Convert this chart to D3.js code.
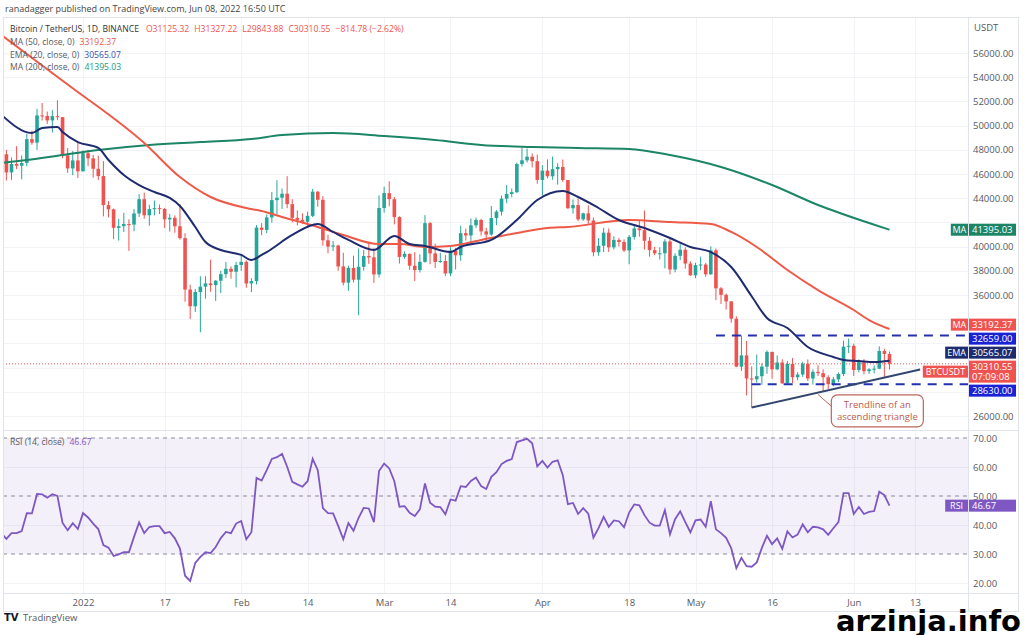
<!DOCTYPE html>
<html>
<head>
<meta charset="utf-8">
<script src="https://cdn.jsdelivr.net/npm/d3@7"></script>
<style>
  body { margin: 0; background: #fff; }
  svg { display: block; font-family: "Open Sans", "DejaVu Sans", sans-serif; }
</style>
</head>
<body>
<div id="chart"></div>
<script>
// Section 1: Data
// ===============

// first candle of the view, one candle per day from here
var startDay = "2021-12-16";

var opens = [
  48880, 47630, 46130, 46830, 46680, 46910, 48880, 48590, 50840, 50800, 50430, 50780, 50700, 47540, 46460, 47120,
  46220, 47720, 47290, 46430, 45830, 43430, 43080, 41550, 41690, 41860, 41820, 42740, 43920, 42590, 43100, 43180,
  43110, 42250, 42380, 41680, 40700, 36450, 35070, 36250, 36690, 36960, 36820, 37180, 37720, 38170, 37920,
  38480, 38740, 36950, 37150, 41570, 41380, 42410, 43840, 44040, 44370, 43510, 42380, 42210, 42050, 42540, 44540,
  43870, 40520, 40000, 40090, 38360, 37020, 38240, 37260, 38330, 39220, 39110, 37700,
  43190, 44420, 43920, 42450, 39150, 39400, 38420, 38060, 38740, 41940, 39440, 38730, 38810, 37780, 39670, 39280,
  41110, 40920, 41760, 42200, 41260, 41000, 42360, 42890, 43960, 44350, 44500, 46820, 47130, 47430, 47060,
  45510, 46280, 45810, 46400, 46580, 45500, 43170, 43440, 42250, 42750, 42160, 39530, 40070, 41150, 39940, 40550,
  40380, 39680, 40800, 41500, 41360, 40480, 39710, 39450, 39450, 40430, 38110, 39240, 39740, 38600,
  37630, 38470, 38520, 37710, 39690, 36550, 36010, 35470, 34040, 30080, 31010, 29100, 29030, 29290, 30080, 31300,
  29860, 30420, 28700, 30300, 29200, 29430, 30320, 29100, 29650, 29540, 29200, 28630, 29030, 29470, 31730,
  31800, 29800, 30450, 29700, 29860, 29910, 31370, 31125.32
];
var highs = [
  49430, 47990, 47360, 48300, 47540, 49330, 49570, 51380, 51870, 51160, 51280, 52090, 50700, 48140, 47900, 48550,
  47950, 47990, 47570, 47510, 47070, 43750, 43150, 42300, 42790, 42250, 43100, 44330, 44460, 43460, 43800, 43480,
  43200, 42690, 42580, 43500, 41100, 36840, 36500, 37550, 37550, 38920, 37230, 38000, 38720, 38360, 38740,
  39270, 38860, 37390, 41770, 41940, 42660, 44500, 45490, 44800, 45820, 43920, 43000, 42750, 42880, 44770, 44590,
  44170, 40980, 40470, 40150, 39490, 38430, 39250, 39840, 39730, 40300, 39880, 44230,
  44950, 45400, 44100, 42500, 39600, 39430, 39550, 39360, 42600, 42040, 40240, 39490, 39310, 39940, 39890, 41720,
  41480, 42330, 42400, 42300, 41550, 43360, 43020, 44220, 45090, 44800, 46940, 48190, 48100, 47700, 47600,
  46720, 47210, 47440, 46890, 47200, 45510, 43900, 43970, 42800, 43410, 42410, 40700, 41560, 41500, 40860, 40710,
  40600, 40950, 41760, 42200, 42980, 40800, 39980, 39940, 40620, 40800, 39450, 40370, 39930, 38790,
  38670, 39170, 38650, 40020, 39850, 36660, 36130, 35500, 34240, 32660, 32200, 30100, 31080, 30340, 31420, 31300,
  31000, 30690, 30550, 30780, 29620, 30480, 30670, 29850, 30200, 29860, 29370, 29230, 29600, 32230, 32400,
  31980, 30680, 30700, 29950, 30170, 31760, 31560, 31327.22
];
var lows = [
  47510, 45460, 45520, 46410, 45560, 46630, 48420, 47990, 50420, 50140, 49420, 50450, 47310, 46100, 45900, 45680,
  46210, 46650, 45700, 45500, 42500, 42420, 40610, 40500, 41200, 39650, 41270, 42450, 42300, 41730, 42580, 42690,
  41540, 41250, 41140, 40580, 35440, 34010, 34600, 32920, 35700, 36270, 35510, 36160, 37410, 37350, 36630,
  38000, 36590, 36250, 36870, 40940, 41110, 41980, 42670, 43120, 43170, 42000, 41750, 41880, 41570, 42430, 43300,
  40070, 39450, 39640, 38000, 36800, 36350, 37030, 34320, 38010, 38570, 37000, 37450,
  42810, 43330, 41830, 38600, 38990, 38090, 37160, 37860, 38660, 38540, 38220, 38660, 37580, 37570, 38110, 38830,
  40500, 40140, 41540, 40910, 40470, 40900, 41770, 42570, 43580, 44070, 44420, 46620, 46950, 46540, 45200,
  44200, 45630, 45520, 45120, 45350, 43120, 42730, 42110, 42120, 41870, 39200, 39250, 39550, 39560, 39760, 40000,
  39550, 38540, 40570, 40820, 39750, 39170, 39290, 38930, 38200, 37700, 37870, 38880, 38180, 37580,
  37390, 38050, 37500, 37670, 35570, 35260, 34790, 33710, 30030, 29730, 27700, 26700, 28750, 28580, 29490, 29080,
  29780, 28660, 28690, 28730, 28950, 29230, 28890, 28600, 29300, 28020, 28200, 28450, 28800, 29300, 31200,
  29310, 29600, 29450, 29480, 29520, 29870, 29220, 29843.88
];
var closes = [
  47630, 46130, 46830, 46680, 46910, 48880, 48590, 50840, 50800, 50430, 50780, 50700, 47540, 46460, 47120, 46220,
  47720, 47290, 46430, 45830, 43430, 43080, 41550, 41690, 41860, 41820, 42740, 43920, 42590, 43100, 43180, 43110,
  42250, 42380, 41680, 40700, 36450, 35070, 36250, 36690, 36960, 36820, 37180, 37720, 38170, 37920, 38480,
  38740, 36950, 37150, 41570, 41380, 42410, 43840, 44040, 44370, 43510, 42380, 42210, 42050, 42540, 44540, 43870,
  40520, 40000, 40090, 38360, 37020, 38240, 37260, 38330, 39220, 39110, 37700, 43190,
  44420, 43920, 42450, 39150, 39400, 38420, 38060, 38740, 41940, 39440, 38730, 38810, 37780, 39670, 39280, 41110,
  40920, 41760, 42200, 41260, 41000, 42360, 42890, 43960, 44350, 44500, 46820, 47130, 47430, 47060, 45510,
  46280, 45810, 46400, 46580, 45500, 43170, 43440, 42250, 42750, 42160, 39530, 40070, 41150, 39940, 40550, 40380,
  39680, 40800, 41500, 41360, 40480, 39710, 39450, 39450, 40430, 38110, 39240, 39740, 38600, 37630,
  38470, 38520, 37710, 39690, 36550, 36010, 35470, 34040, 30080, 31010, 29100, 29030, 29290, 30080, 31300, 29860,
  30420, 28700, 30300, 29200, 29430, 30320, 29100, 29650, 29540, 29200, 28630, 29030, 29470, 31730, 31800,
  29800, 30450, 29700, 29860, 29910, 31370, 31125.33, 30310.55
];

// RSI(14), one value per candle
var rsi = [
  37.2, 35.2, 37.2, 37.2, 37.9, 44.1, 44.0, 50.7, 50.6, 49.4,
  50.6, 50.0, 40.7, 38.2, 40.6, 38.6, 44.1, 42.6, 40.5, 38.6,
  33.1, 32.2, 29.3, 29.9, 30.6, 30.6, 35.9, 40.9, 37.2, 39.3,
  39.6, 39.6, 37.2, 37.6, 35.4, 31.9, 22.5, 20.7, 26.9, 29.0,
  30.6, 30.3, 32.4, 35.5, 37.6, 37.2, 40.5, 41.4, 35.1, 37.5,
  56.2, 55.3, 58.9, 62.8, 63.4, 64.5, 60.1, 54.9, 54.0, 53.2,
  55.1, 62.8, 58.9, 45.8, 44.1, 44.0, 39.7, 35.1, 40.7, 38.0,
  42.5, 45.9, 45.7, 41.0, 58.6, 61.2, 59.5, 55.1, 46.3, 46.5,
  44.2, 43.1, 45.4, 54.3, 47.7, 46.3, 46.2, 43.7, 48.8, 48.4,
  53.4, 53.1, 55.2, 56.4, 53.4, 52.4, 56.6, 58.2, 61.0, 62.1,
  62.7, 68.6, 69.2, 69.7, 68.2, 60.2, 62.1, 59.8, 61.8, 62.3,
  57.2, 47.2, 47.6, 43.8, 45.8, 43.9, 35.6, 38.9, 42.8, 39.4,
  41.6, 41.3, 39.2, 44.3, 47.1, 46.8, 43.4, 40.8, 39.8, 39.8,
  45.1, 36.8, 42.0, 44.7, 41.0, 37.5, 41.6, 41.9, 39.4, 48.2,
  38.5, 37.2, 35.6, 32.0, 25.1, 28.7, 25.8, 25.6, 27.1, 32.1,
  36.3, 33.4, 35.4, 31.8, 37.8, 35.7, 36.7, 40.2, 37.5, 39.4,
  39.2, 38.5, 36.6, 38.9, 41.0, 51.0, 51.0, 43.8, 46.2, 43.8,
  44.5, 44.8, 51.5, 50.3, 46.67
];

// moving averages: [days since startDay, price]
var ema20 = [
  [0, 50900], [6, 49390], [8, 49800], [11, 49880], [12, 49470], [15, 48640], [19, 48150], [21, 47160],
  [24, 45920], [27, 45090], [30, 44510], [33, 44020], [35, 43360], [38, 41620], [40, 40380], [43, 39720],
  [47, 39310], [49, 38890], [51, 39310], [52, 39550], [57, 40960], [62, 41870], [65, 41210], [68, 40550],
  [73, 39720], [77, 40880], [80, 40210], [83, 40050], [88, 39550], [90, 39970], [96, 40550], [101, 42200],
  [105, 43850], [110, 44600], [113, 44100], [117, 43190], [121, 42200], [126, 41540], [131, 40710],
  [135, 39970], [139, 39550], [143, 38310], [147, 35900], [150, 34100], [154, 33270], [158, 31700],
  [163, 30880], [165, 30630], [168, 30550], [171, 30460], [174, 30565.07]
];
var ma50 = [
  [0, 57490], [13, 53400], [28, 48560], [35, 45750], [41, 44100], [48, 43190], [51, 42940], [55, 42450],
  [62, 41620], [67, 40960], [74, 40210], [78, 40210], [83, 39970], [88, 40050], [94, 40550], [101, 41120],
  [107, 41540], [111, 41620], [123, 42200], [131, 42030], [139, 41870], [143, 41210], [148, 39970],
  [154, 38070], [160, 36410], [167, 34760], [170, 33930], [174, 33192.37]
];
var ma200 = [
  [0, 46910], [5, 47160], [12, 47570], [19, 47980], [29, 48400], [39, 48640], [49, 48890], [55, 49220],
  [65, 49390], [75, 49140], [85, 48810], [94, 48400], [104, 48230], [113, 48150], [123, 48070], [131, 47570],
  [141, 46580], [151, 45090], [160, 43440], [170, 41950], [174, 41395.03]
];

// drawn levels, the trendline and its note
var resistance = { from: "2022-05-05", value: 32659 };
var support = { from: "2022-05-12", value: 28630 };
var trendline = [["2022-05-12", 26700], ["2022-06-14", 29850]];
var calloutLines = ["Trendline of an", "ascending triangle"];

// axes
var dateTicks = ["2022-01-01", "2022-01-17", "2022-02-01", "2022-02-14", "2022-03-01", "2022-03-14",
                 "2022-04-01", "2022-04-18", "2022-05-01", "2022-05-16", "2022-06-01", "2022-06-13"];
var dateTickLabels = ["2022", "17", "Feb", "14", "Mar", "14", "Apr", "18", "May", "16", "Jun", "13"];
var priceTicks = [26000, 28000, 30000, 32000, 34000, 36000, 38000, 40000, 42000, 44000, 46000,
                  48000, 50000, 52000, 54000, 56000];
var rsiTicks = [20, 30, 40, 50, 60, 70];
var rsiBands = [30, 50, 70];

// Section 2: Canvas
// =================
var width = 1024;
var height = 635;
var paneLeft = 3;
var paneTop = 17;
var paneRight = 1018;
var axisX = 968;
var mainBottom = 429;
var rsiTop = 431;
var rsiBottom = 593;
var frameBottom = 611;

var green = "#26a69a";
var red = "#ef5350";
var navy = "#1f2b6f";
var levelBlue = "#2430b0";
var tagBlue = "#1a22d6";
var maGreen = "#1b8566";
var purple = "#7e57c2";
var textGray = "#555a63";
var lineGray = "#e0e3eb";
var fontStack = "'Open Sans', 'DejaVu Sans', sans-serif";

var parseDate = d3.utcParse("%Y-%m-%d");
var t0 = parseDate(startDay);
function dayDate(i) { return d3.utcDay.offset(t0, i); }

var x = d3.scaleUtc().domain([t0, parseDate("2022-06-13")]).range([1.3, 915]);
var y = d3.scaleLinear().domain([26000, 56000]).range([416, 53]);
var yr = d3.scaleLinear().domain([20, 70]).range([583, 438]);
var fmt = d3.format(".2f");

var svg = d3.select("#chart").append("svg")
  .attr("width", width)
  .attr("height", height);

svg.append("rect").attr("width", width).attr("height", height).attr("fill", "#fff");

var defs = svg.append("defs");
defs.append("clipPath").attr("id", "clipMain").append("rect")
  .attr("x", paneLeft).attr("y", paneTop).attr("width", axisX - paneLeft).attr("height", mainBottom - paneTop);
defs.append("clipPath").attr("id", "clipRsi").append("rect")
  .attr("x", paneLeft).attr("y", rsiTop).attr("width", axisX - paneLeft).attr("height", rsiBottom - rsiTop);

// header
svg.append("text")
  .attr("x", 5).attr("y", 12)
  .attr("font-size", "9px").attr("fill", "#444")
  .text("ranadagger published on TradingView.com, Jun 08, 2022 16:50 UTC");

// grid
var grid = svg.append("g").attr("stroke", "#f1f3f7").attr("stroke-width", 1);
grid.selectAll(".hgrid").data(priceTicks).join("line")
  .attr("x1", paneLeft).attr("x2", axisX)
  .attr("y1", function(d) { return Math.round(y(d)) + 0.5; })
  .attr("y2", function(d) { return Math.round(y(d)) + 0.5; });
grid.selectAll(".vgrid").data(dateTicks).join("line")
  .attr("x1", function(d) { return Math.round(x(parseDate(d))) + 0.5; })
  .attr("x2", function(d) { return Math.round(x(parseDate(d))) + 0.5; })
  .attr("y1", paneTop).attr("y2", rsiBottom);
grid.selectAll(".rgrid").data([20, 40, 60]).join("line")
  .attr("x1", paneLeft).attr("x2", axisX)
  .attr("y1", function(d) { return Math.round(yr(d)) + 0.5; })
  .attr("y2", function(d) { return Math.round(yr(d)) + 0.5; });

// Section 3: Price pane
// =====================
var main = svg.append("g").attr("clip-path", "url(#clipMain)");
var last = closes.length - 1;

// last price dotted line
main.append("line")
  .attr("x1", paneLeft).attr("x2", axisX)
  .attr("y1", y(closes[last])).attr("y2", y(closes[last]))
  .attr("stroke", red).attr("stroke-width", 1).attr("stroke-dasharray", "1,2");

var candles = closes.map(function(c, i) {
  return { date: dayDate(i), o: opens[i], h: highs[i], l: lows[i], c: c };
});

var candleG = main.append("g");
candleG.selectAll(".wick").data(candles).join("line")
  .attr("x1", function(d) { return x(d.date); })
  .attr("x2", function(d) { return x(d.date); })
  .attr("y1", function(d) { return y(d.h); })
  .attr("y2", function(d) { return y(d.l); })
  .attr("stroke", function(d) { return d.c >= d.o ? green : red; })
  .attr("stroke-width", 1);
candleG.selectAll(".body").data(candles).join("rect")
  .attr("x", function(d) { return x(d.date) - 1.8; })
  .attr("width", 3.6)
  .attr("y", function(d) { return y(Math.max(d.o, d.c)); })
  .attr("height", function(d) { return Math.max(1, Math.abs(y(d.o) - y(d.c))); })
  .attr("fill", function(d) { return d.c >= d.o ? green : red; });

var maLine = d3.line()
  .x(function(d) { return x(dayDate(d[0])); })
  .y(function(d) { return y(d[1]); })
  .curve(d3.curveMonotoneX);

main.append("path").datum(ma200).attr("d", maLine)
  .attr("fill", "none").attr("stroke", maGreen).attr("stroke-width", 2);
main.append("path").datum(ma50).attr("d", maLine)
  .attr("fill", "none").attr("stroke", "#ee5a48").attr("stroke-width", 2);
main.append("path").datum(ema20).attr("d", maLine)
  .attr("fill", "none").attr("stroke", navy).attr("stroke-width", 2);

// horizontal levels
[resistance, support].forEach(function(lv) {
  main.append("line")
    .attr("x1", x(parseDate(lv.from))).attr("x2", axisX)
    .attr("y1", y(lv.value)).attr("y2", y(lv.value))
    .attr("stroke", levelBlue).attr("stroke-width", 2)
    .attr("stroke-dasharray", "9,7");
});

// trendline of the triangle
var trendX1 = x(parseDate(trendline[0][0]));
var trendX2 = x(parseDate(trendline[1][0]));
var trendY = d3.scaleLinear().domain([trendX1, trendX2]).range([y(trendline[0][1]), y(trendline[1][1])]);
main.append("line")
  .attr("x1", trendX1).attr("y1", trendY(trendX1))
  .attr("x2", trendX2).attr("y2", trendY(trendX2))
  .attr("stroke", "#33466f").attr("stroke-width", 2);

// note box, hooked to the trendline
var boxX = x(parseDate("2022-05-28")) - 2;
var boxY = y(27750);
var hookX = x(parseDate("2022-05-25"));
var callout = main.append("g");
callout.append("line")
  .attr("x1", hookX).attr("y1", trendY(hookX) + 2)
  .attr("x2", boxX + 3).attr("y2", boxY + 14)
  .attr("stroke", "#b9675c").attr("stroke-width", 1);
callout.append("rect")
  .attr("x", boxX).attr("y", boxY)
  .attr("width", 92).attr("height", 32).attr("rx", 6)
  .attr("fill", "#fff").attr("stroke", "#b9675c").attr("stroke-width", 1.2);
callout.selectAll("text").data(calloutLines).join("text")
  .attr("x", boxX + 46)
  .attr("y", function(d, i) { return boxY + 13 + i * 12; })
  .attr("text-anchor", "middle")
  .attr("font-size", "9.5px")
  .attr("fill", "#bd5a4c")
  .text(function(d) { return d; });

// legend
var legend = svg.append("g").attr("font-size", "8.6px");
var head = legend.append("text").attr("x", 10).attr("y", 32).attr("fill", "#333");
var change = closes[last] - closes[last - 1];
head.append("tspan").text("Bitcoin / TetherUS, 1D, BINANCE");
head.append("tspan").attr("dx", 7).attr("fill", red).text("O" + fmt(opens[last]));
head.append("tspan").attr("dx", 5).attr("fill", red).text("H" + fmt(highs[last]));
head.append("tspan").attr("dx", 5).attr("fill", red).text("L" + fmt(lows[last]));
head.append("tspan").attr("dx", 5).attr("fill", red).text("C" + fmt(closes[last]));
head.append("tspan").attr("dx", 5).attr("fill", red)
  .text("\u2212" + fmt(Math.abs(change)) + " (\u2212" + fmt(Math.abs(change / closes[last - 1] * 100)) + "%)");

var legendRows = [
  { name: "MA (50, close, 0)", value: ma50[ma50.length - 1][1], color: "#e9584a" },
  { name: "EMA (20, close, 0)", value: ema20[ema20.length - 1][1], color: "#3b4fb0" },
  { name: "MA (200, close, 0)", value: ma200[ma200.length - 1][1], color: "#23957a" }
];
legendRows.forEach(function(r, i) {
  var t = legend.append("text").attr("x", 10).attr("y", 45 + i * 12.5).attr("fill", textGray);
  t.append("tspan").text(r.name);
  t.append("tspan").attr("dx", 5).attr("fill", r.color).text(fmt(r.value));
});

// Section 4: RSI pane
// ===================
var rsiG = svg.append("g").attr("clip-path", "url(#clipRsi)");
rsiG.append("rect")
  .attr("x", paneLeft).attr("width", axisX - paneLeft)
  .attr("y", yr(70)).attr("height", yr(30) - yr(70))
  .attr("fill", purple).attr("fill-opacity", 0.09);
rsiG.selectAll(".band").data(rsiBands).join("line")
  .attr("x1", paneLeft).attr("x2", axisX)
  .attr("y1", function(d) { return yr(d); }).attr("y2", function(d) { return yr(d); })
  .attr("stroke", "#8d8a9c").attr("stroke-width", 1).attr("stroke-dasharray", "4,4");
rsiG.append("path").datum(rsi)
  .attr("d", d3.line()
    .x(function(d, i) { return x(dayDate(i)); })
    .y(function(d) { return yr(d); }))
  .attr("fill", "none").attr("stroke", purple).attr("stroke-width", 1.8);

var rsiLeg = svg.append("text").attr("x", 10).attr("y", 445).attr("font-size", "8.6px").attr("fill", textGray);
rsiLeg.append("tspan").text("RSI (14, close)");
rsiLeg.append("tspan").attr("dx", 5).attr("fill", purple).text(fmt(rsi[rsi.length - 1]));

// Section 5: Frame and axes
// =========================
var frame = svg.append("g").attr("stroke", lineGray).attr("stroke-width", 1).attr("fill", "none");
frame.append("rect").attr("x", paneLeft + 0.5).attr("y", paneTop + 0.5)
  .attr("width", paneRight - paneLeft).attr("height", frameBottom - paneTop);
frame.append("line").attr("x1", axisX + 0.5).attr("x2", axisX + 0.5).attr("y1", paneTop).attr("y2", frameBottom);
frame.append("line").attr("x1", paneLeft).attr("x2", paneRight).attr("y1", 430.5).attr("y2", 430.5);
frame.append("line").attr("x1", paneLeft).attr("x2", paneRight).attr("y1", rsiBottom + 0.5).attr("y2", rsiBottom + 0.5);

// tags that sit on the price axis, pushed apart so they do not overlap
var tags = [
  { value: ma50[ma50.length - 1][1], tag: "MA", lines: [fmt(ma50[ma50.length - 1][1])], color: red, h: 12 },
  { value: resistance.value, tag: null, lines: [fmt(resistance.value)], color: tagBlue, h: 12 },
  { value: ema20[ema20.length - 1][1], tag: "EMA", lines: [fmt(ema20[ema20.length - 1][1])], color: navy, h: 12 },
  { value: closes[last], tag: "BTCUSDT", lines: [fmt(closes[last]), "07:09:08"], color: red, h: 22 },
  { value: support.value, tag: null, lines: [fmt(support.value)], color: tagBlue, h: 12 }
];
tags.forEach(function(t) { t.c = y(t.value) + (t.h - 12) / 2; });
tags.sort(function(a, b) { return a.c - b.c; });
for (var k = 0; k < 80; k++) {
  for (var j = 0; j < tags.length - 1; j++) {
    var a = tags[j], b = tags[j + 1];
    var need = (a.h + b.h) / 2 + 2;
    var gap = b.c - a.c;
    if (gap < need) {
      a.c -= (need - gap) / 2;
      b.c += (need - gap) / 2;
    }
  }
}
var ma200Y = y(ma200[ma200.length - 1][1]);
var rsiY = yr(rsi[rsi.length - 1]);
var tagSpans = tags.map(function(t) { return [t.c - t.h / 2, t.c + t.h / 2]; })
  .concat([[ma200Y - 6, ma200Y + 6], [rsiY - 6, rsiY + 6]]);
function hiddenTick(ty) {
  return tagSpans.some(function(s) { return ty + 5 > s[0] && ty - 5 < s[1]; });
}

var priceAxis = svg.append("g")
  .attr("transform", "translate(" + axisX + ",0)")
  .call(d3.axisRight(y).tickValues(priceTicks).tickFormat(fmt).tickSize(0).tickPadding(5));
priceAxis.select(".domain").remove();
priceAxis.selectAll("text").attr("font-size", "9.5px").attr("fill", textGray).attr("font-family", fontStack);
priceAxis.selectAll(".tick").filter(function(d) { return hiddenTick(y(d)); }).remove();

var rsiAxis = svg.append("g")
  .attr("transform", "translate(" + axisX + ",0)")
  .call(d3.axisRight(yr).tickValues(rsiTicks).tickFormat(fmt).tickSize(0).tickPadding(5));
rsiAxis.select(".domain").remove();
rsiAxis.selectAll("text").attr("font-size", "9.5px").attr("fill", textGray).attr("font-family", fontStack);

svg.append("text").attr("x", 974).attr("y", 31)
  .attr("font-size", "9.5px").attr("fill", textGray).text("USDT");

var dateAxis = svg.append("g")
  .attr("transform", "translate(0," + rsiBottom + ")")
  .call(d3.axisBottom(x)
    .tickValues(dateTicks.map(parseDate))
    .tickFormat(function(d, i) { return dateTickLabels[i]; })
    .tickSize(0).tickPadding(6));
dateAxis.select(".domain").remove();
dateAxis.selectAll("text").attr("font-size", "9.5px").attr("fill", textGray).attr("font-family", fontStack);

// Section 6: Axis tags
// ====================
function drawTag(g, cy, h, tag, lines, color) {
  if (tag) {
    var tw = tag.length * 5.6 + 6;
    g.append("rect").attr("x", axisX - tw).attr("y", cy - 6).attr("width", tw).attr("height", 12)
      .attr("fill", color);
    g.append("text").attr("x", axisX - tw / 2).attr("y", cy + 3.3).attr("text-anchor", "middle")
      .attr("font-size", "9px").attr("fill", "#fff").text(tag);
  }
  g.append("rect").attr("x", axisX + 1).attr("y", cy - h / 2).attr("width", 47).attr("height", h)
    .attr("fill", color);
  lines.forEach(function(s, i) {
    g.append("text").attr("x", axisX + 4).attr("y", cy - h / 2 + 9.3 + i * 10.5)
      .attr("font-size", "9.5px").attr("fill", "#fff").text(s);
  });
}

var tagG = svg.append("g");
tags.forEach(function(t) { drawTag(tagG, t.c, t.h, t.tag, t.lines, t.color); });
drawTag(tagG, ma200Y, 12, "MA", [fmt(ma200[ma200.length - 1][1])], maGreen);
drawTag(tagG, rsiY, 12, "RSI", [fmt(rsi[rsi.length - 1])], purple);

// Section 7: Footer
// =================
svg.append("text").attr("x", 4).attr("y", 621)
  .attr("font-size", "10px").attr("font-weight", "bold").attr("fill", "#131722")
  .attr("font-family", "'DejaVu Sans', sans-serif").text("TV");
svg.append("text").attr("x", 23).attr("y", 621)
  .attr("font-size", "9.5px").attr("fill", textGray).text("TradingView");

svg.append("text")
  .attr("x", 1021).attr("y", 631)
  .attr("text-anchor", "end")
  .attr("font-family", "'DejaVu Sans', sans-serif")
  .attr("font-weight", "bold")
  .attr("font-size", "29px")
  .attr("fill", "#000")
  .text("arzinja.info");
</script>
</body>
</html>
